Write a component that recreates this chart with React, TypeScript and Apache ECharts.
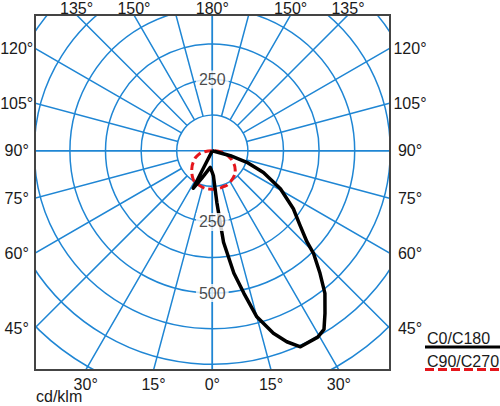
import React, { useEffect, useRef } from "react";
import * as echarts from "echarts";

// ---- data (gamma angle in degrees: 0 = down, + = right side, - = left side; values in cd/klm)
const c0c180Angles = [-180, -28, -27, -21, -7, 0, 2.5, 5, 7, 10, 12.5, 15, 18.5, 21.3, 24.2, 29.5, 32, 34.7, 38.3, 41.3, 44.6, 46.1, 49.7, 54.4, 60.8, 67, 71.4, 74.5, 80, 180];
const c0c180Values = [0, 0, 148, 104, 59, 77, 88, 182, 324, 437, 513, 604, 676, 720, 755, 752, 740, 695, 638, 573, 506, 461, 403, 350, 274, 195, 128, 66, 0, 0];

const c90c270Angles = [-90, -82, -72, -60, -48, -38, -20, 0, 20, 28, 40, 50, 60, 71, 82, 90];
const c90c270Values = [0, 28, 55, 76, 97, 114, 130, 135, 132, 128, 118, 105, 86, 60, 32, 0];

const radiusLabelValues = [250, 250, 500];
const radiusLabelAngles = [180, 0, 0];

const edgeLabelAngles = [0, 15, 30, 45, 60, 75, 90, 105, 120, 135, 150, 180];
const seriesNames = ["C0/C180", "C90/C270"];
const unitLabel = "cd/klm";

// ---- layout
const CENTER: [number, number] = [212.3, 150.7];
const R_IN = 35.6;
const R_OUT = 284.8;
const BOX = { left: 35, top: 15, right: 390, bottom: 370 };
const FONT = '16px "Liberation Sans", Arial, sans-serif';
const GRID = "#1f86d4";
const TXT = "#1a1a1a";

function edgeLabels() {
  const out: any[] = [];
  const [cx, cy] = CENTER;
  edgeLabelAngles.forEach((a) => {
    const sides = a === 0 || a === 180 ? [1] : [1, -1];
    sides.forEach((s) => {
      const g = (s * a * Math.PI) / 180;
      const dx = Math.sin(g);
      const dy = Math.cos(g);
      let tx = Infinity, ty = Infinity;
      if (dx > 1e-9) tx = (BOX.right - cx) / dx;
      else if (dx < -1e-9) tx = (BOX.left - cx) / dx;
      if (dy > 1e-9) ty = (BOX.bottom - cy) / dy;
      else if (dy < -1e-9) ty = (BOX.top - cy) / dy;
      let x: number, y: number;
      if (tx < ty) {
        y = cy + dy * tx;
        x = dx > 0 ? BOX.right + 20 : BOX.left - 18.3;
      } else {
        x = cx + dx * ty;
        y = dy > 0 ? BOX.bottom + 14 : BOX.top - 7;
      }
      out.push({
        type: "text",
        x,
        y,
        z: 102,
        silent: true,
        style: { text: a + "°", fill: TXT, font: FONT, align: "center", verticalAlign: "middle" },
      });
    });
  });
  return out;
}

export default function App() {
  const ref = useRef<HTMLDivElement>(null);
  useEffect(() => {
    document.body.style.margin = "0";
    const chart = echarts.init(ref.current!, null, { renderer: "svg", width: 500, height: 406 });
    const hiddenAxisParts = {
      axisLine: { show: false },
      axisTick: { show: false },
      axisLabel: { show: false },
    };
    const option: any = {
      animation: false,
      backgroundColor: "#fff",
      textStyle: { fontFamily: '"Liberation Sans", Arial, sans-serif' },
      polar: [
        { center: CENTER, radius: R_OUT },
        { center: CENTER, radius: [R_IN, R_OUT] },
      ],
      angleAxis: [
        {
          polarIndex: 0, type: "value", min: -180, max: 180, interval: 90,
          startAngle: 90, clockwise: false, ...hiddenAxisParts,
          splitLine: { show: true, lineStyle: { color: GRID, width: 1.5 } },
        },
        {
          polarIndex: 1, type: "value", min: -180, max: 180, interval: 15,
          startAngle: 90, clockwise: false, ...hiddenAxisParts,
          splitLine: { show: true, lineStyle: { color: GRID, width: 1.5 } },
        },
      ],
      radiusAxis: [
        {
          polarIndex: 0, type: "value", min: 0, max: 1000, interval: 125, ...hiddenAxisParts,
          splitLine: { show: true, lineStyle: { color: GRID, width: 1.5 } },
        },
        {
          polarIndex: 1, type: "value", min: 125, max: 1000, ...hiddenAxisParts,
          splitLine: { show: false },
        },
      ],
      series: [
        {
          name: seriesNames[1], type: "line", coordinateSystem: "polar", polarIndex: 0,
          data: c90c270Angles.map((g, i) => [c90c270Values[i], g]),
          showSymbol: false, symbol: "none", smooth: true,
          lineStyle: { color: "#e5161c", width: 3, type: [8, 4] }, z: 3,
        },
        {
          name: seriesNames[0], type: "line", coordinateSystem: "polar", polarIndex: 0,
          data: c0c180Angles.map((g, i) => [c0c180Values[i], g]),
          showSymbol: false, symbol: "none", smooth: false,
          lineStyle: { color: "#000", width: 3.5, join: "round" }, z: 4,
        },
        {
          type: "scatter", coordinateSystem: "polar", polarIndex: 0,
          data: radiusLabelAngles.map((g, i) => [radiusLabelValues[i], g]),
          symbolSize: 1, itemStyle: { color: "rgba(0,0,0,0)" }, z: 5,
          label: {
            show: true, position: "inside",
            formatter: (p: any) => String(p.value[0]),
            fontSize: 16, color: TXT, backgroundColor: "#fff", padding: [1, 3],
          },
        },
      ],
      graphic: [
        { type: "rect", z: 100, silent: true, shape: { x: 0, y: 0, width: 500, height: BOX.top }, style: { fill: "#fff" } },
        { type: "rect", z: 100, silent: true, shape: { x: 0, y: BOX.bottom, width: 500, height: 406 - BOX.bottom }, style: { fill: "#fff" } },
        { type: "rect", z: 100, silent: true, shape: { x: 0, y: 0, width: BOX.left, height: 406 }, style: { fill: "#fff" } },
        { type: "rect", z: 100, silent: true, shape: { x: BOX.right, y: 0, width: 500 - BOX.right, height: 406 }, style: { fill: "#fff" } },
        {
          type: "rect", z: 101, silent: true,
          shape: { x: BOX.left, y: BOX.top, width: BOX.right - BOX.left, height: BOX.bottom - BOX.top },
          style: { fill: "none", stroke: "#444", lineWidth: 2 },
        },
        ...edgeLabels(),
        {
          type: "text", x: 36, y: 396.5, z: 102, silent: true,
          style: { text: unitLabel, fill: TXT, font: FONT, align: "left", verticalAlign: "middle" },
        },
        {
          type: "text", x: 427, y: 338, z: 102, silent: true,
          style: { text: seriesNames[0], fill: TXT, font: FONT, align: "left", verticalAlign: "middle" },
        },
        {
          type: "line", z: 102, silent: true,
          shape: { x1: 425, y1: 347, x2: 500, y2: 347 },
          style: { stroke: "#000", lineWidth: 3 },
        },
        {
          type: "text", x: 427, y: 361.5, z: 102, silent: true,
          style: { text: seriesNames[1], fill: TXT, font: FONT, align: "left", verticalAlign: "middle" },
        },
        {
          type: "line", z: 102, silent: true,
          shape: { x1: 425, y1: 369.5, x2: 500, y2: 369.5 },
          style: { stroke: "#e5161c", lineWidth: 3, lineDash: [9, 4] },
        },
      ],
    };
    chart.setOption(option);
    return () => chart.dispose();
  }, []);
  return <div ref={ref} style={{ width: 500, height: 406, position: "absolute", left: 0, top: 0 }} />;
}
